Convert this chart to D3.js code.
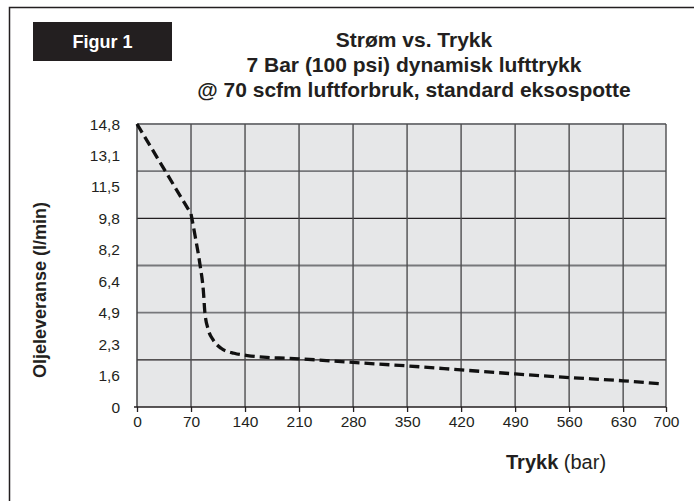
<!DOCTYPE html>
<html>
<head>
<meta charset="utf-8">
<script src="https://cdn.jsdelivr.net/npm/d3@7"></script>
<style>
  html, body { margin: 0; padding: 0; background: #fff; }
  svg { display: block; }
  text { font-family: "Liberation Sans", Arial, Helvetica, sans-serif; fill: #231f20; }
</style>
</head>
<body>
<svg id="chart" width="694" height="501"></svg>
<script>
// Oil delivery (l/min) against pressure (bar)
const pressure = [0, 70, 75.5, 81.8, 86, 88, 92.4, 98.7, 109, 126, 143, 168, 194, 210, 280, 350, 420, 490, 560, 630, 695];
const flow     = [14.8, 10.1, 8.9, 7.4, 6.07, 4.93, 4.04, 3.51, 3.07, 2.81, 2.69, 2.59, 2.55, 2.52, 2.33, 2.15, 1.94, 1.73, 1.54, 1.37, 1.2];
const kneeIndex = 1;

const xTicks = [0, 70, 140, 210, 280, 350, 420, 490, 560, 630, 700];
const yTickLabels = ["0", "1,6", "2,3", "4,9", "6,4", "8,2", "9,8", "11,5", "13,1", "14,8"];
const yMax = 14.8;
const yGridCount = 6;

const titleLines = ["Strøm vs. Trykk", "7 Bar (100 psi) dynamisk lufttrykk", "@ 70 scfm luftforbruk, standard eksospotte"];
const figLabel = "Figur 1";
const yTitle = "Oljeleveranse (l/min)";
const xTitleBold = "Trykk";
const xTitleUnit = " (bar)";

const svg = d3.select("#chart");
const plot = { left: 137, right: 666, top: 124, bottom: 407 };
const W = plot.right - plot.left;

// outer frame (right and bottom edges run off the page)
svg.append("rect")
  .attr("x", 9.5).attr("y", 7.5).attr("width", 700).attr("height", 600)
  .attr("fill", "none").attr("stroke", "#231f20").attr("stroke-width", 1.5);

// figure tag
svg.append("rect")
  .attr("x", 33).attr("y", 22).attr("width", 139).attr("height", 39)
  .attr("fill", "#231f20");
svg.append("text")
  .attr("x", 102.5).attr("y", 48).attr("text-anchor", "middle")
  .style("font-weight", "bold").style("font-size", "18px").style("fill", "#fff")
  .text(figLabel);

// titles
svg.append("g").selectAll("text").data(titleLines).join("text")
  .attr("x", 414).attr("y", (d, i) => 47 + i * 25)
  .attr("text-anchor", "middle")
  .style("font-weight", "bold").style("font-size", "21px")
  .text(d => d);

// scales: the last column (630-700) is drawn narrower than the others
const x = d3.scaleLinear().domain([0, 630, 700]).range([plot.left, plot.left + W * 0.919, plot.right]);
const y = d3.scaleLinear().domain([0, yMax]).range([plot.bottom, plot.top]);

// plot background
svg.append("rect")
  .attr("x", plot.left).attr("y", plot.top).attr("width", W).attr("height", plot.bottom - plot.top)
  .attr("fill", "#e6e7e8");

// horizontal grid: alternating dark / soft grey rules
const hGrid = d3.range(1, yGridCount + 1).map(i => yMax * i / yGridCount);
svg.append("g").selectAll("line").data(hGrid).join("line")
  .attr("x1", plot.left).attr("x2", plot.right)
  .attr("y1", d => y(d)).attr("y2", d => y(d))
  .attr("stroke", (d, i) => i % 3 === 0 ? "#231f20" : "#77787b")
  .attr("stroke-width", (d, i) => i % 3 === 0 ? 1.2 : 1.8);

// vertical grid
svg.append("g").selectAll("line").data(xTicks.slice(1)).join("line")
  .attr("x1", d => x(d)).attr("x2", d => x(d))
  .attr("y1", plot.top).attr("y2", plot.bottom)
  .attr("stroke", "#4d4d4f").attr("stroke-width", 1.4);

// left edge
svg.append("line")
  .attr("x1", plot.left).attr("x2", plot.left).attr("y1", plot.top).attr("y2", plot.bottom)
  .attr("stroke", "#414042").attr("stroke-width", 1.5);

// x axis
const xAxis = svg.append("g")
  .attr("transform", `translate(0,${plot.bottom})`)
  .call(d3.axisBottom(x).tickValues(xTicks).tickFormat(d3.format("d")).tickSize(5).tickPadding(4));
xAxis.select(".domain").attr("stroke", "#231f20").attr("stroke-width", 1.5)
  .attr("d", `M${plot.left - 3},0H${plot.right}`);
xAxis.selectAll(".tick line").attr("stroke", "#231f20").attr("stroke-width", 1.3);
xAxis.selectAll(".tick text").style("font-size", "15.5px").style("fill", "#231f20")
  .style("font-family", "'Liberation Sans', Arial, sans-serif");

// y labels, evenly spaced over the scale
const yLabelPos = yTickLabels.map((t, i) => ({ t, v: yMax * i / (yTickLabels.length - 1) }));
svg.append("g").selectAll("text").data(yLabelPos).join("text")
  .attr("x", 120).attr("y", d => y(d.v)).attr("dy", "0.36em")
  .attr("text-anchor", "end")
  .style("font-size", "15.5px")
  .text(d => d.t);

// axis titles
svg.append("text")
  .attr("transform", `translate(46,290) rotate(-90)`)
  .attr("text-anchor", "middle")
  .style("font-weight", "bold").style("font-size", "18px")
  .text(yTitle);

const xt = svg.append("text")
  .attr("x", 506).attr("y", 469).attr("text-anchor", "start")
  .style("font-size", "20px");
xt.append("tspan").style("font-weight", "bold").text(xTitleBold);
xt.append("tspan").text(xTitleUnit);

// curve: straight run down to the knee, smooth from there on
const pts = pressure.map((p, i) => [p, flow[i]]);
const straight = d3.line().x(d => x(d[0])).y(d => y(d[1]));
const smooth = d3.line().x(d => x(d[0])).y(d => y(d[1])).curve(d3.curveMonotoneX);
const pathD = straight(pts.slice(0, kneeIndex + 1)) + smooth(pts.slice(kneeIndex)).replace(/^M/, "L");
svg.append("path")
  .attr("d", pathD)
  .attr("fill", "none")
  .attr("stroke", "#111")
  .attr("stroke-width", 3.3)
  .attr("stroke-dasharray", "10,5");
</script>
</body>
</html>
